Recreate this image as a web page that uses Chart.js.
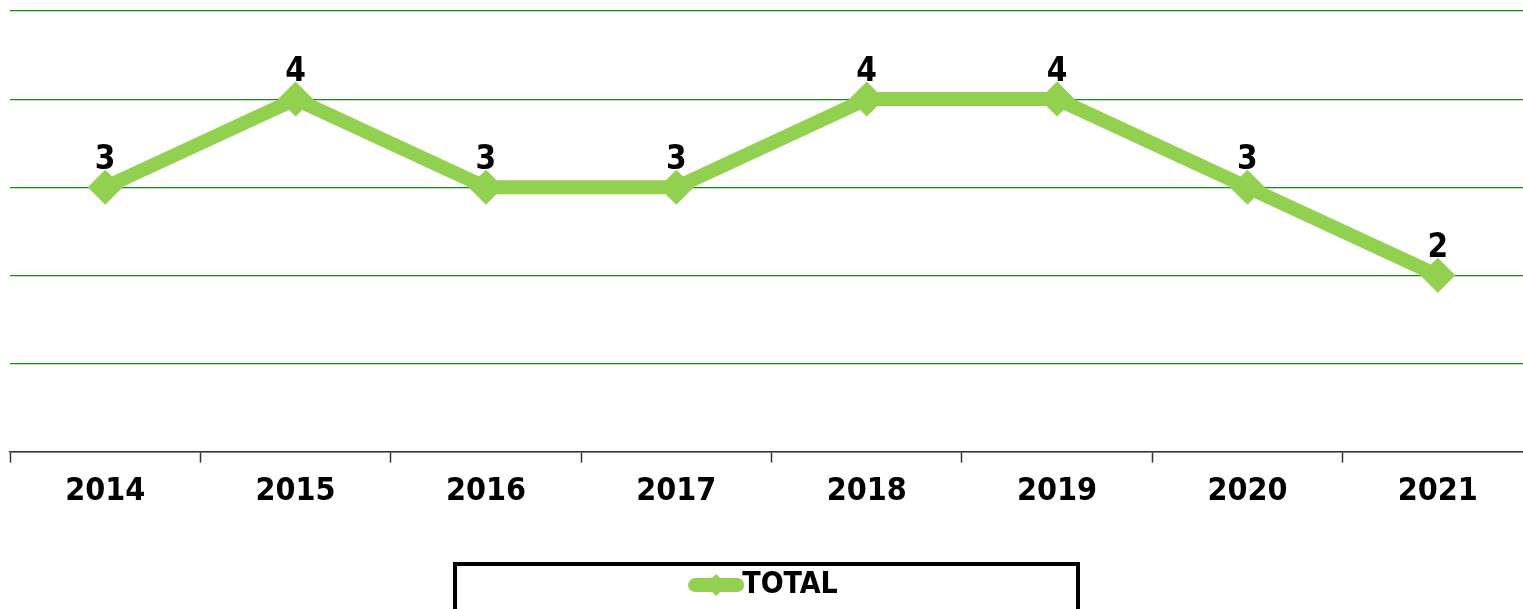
<!DOCTYPE html>
<html>
<head>
<meta charset="utf-8">
<script src="https://cdn.jsdelivr.net/npm/chart.js@4"></script>
<style>
  html, body { margin: 0; padding: 0; background: #fff; overflow: hidden; }
  canvas { display: block; }
</style>
</head>
<body>
<canvas id="myChart" width="1533" height="610"></canvas>
<script>
const years = ['2014', '2015', '2016', '2017', '2018', '2019', '2020', '2021'];
const totals = [3, 4, 3, 3, 4, 4, 3, 2];
const seriesName = 'TOTAL';
const yMin = 0;
const yMax = 5;
const yStep = 1;

const green = '#92D050';
const gridGreen = '#148a14';
const font = "'Liberation Sans Narrow', 'DejaVu Sans Condensed', sans-serif";

// legend marker: thick line with a diamond in the middle
const marker = document.createElement('canvas');
marker.width = 56;
marker.height = 26;
(function () {
  const c = marker.getContext('2d');
  c.strokeStyle = green;
  c.fillStyle = green;
  c.lineWidth = 14;
  c.lineCap = 'round';
  c.beginPath();
  c.moveTo(7, 13);
  c.lineTo(49, 13);
  c.stroke();
  c.beginPath();
  c.moveTo(28, 2);
  c.lineTo(39, 13);
  c.lineTo(28, 24);
  c.lineTo(17, 13);
  c.closePath();
  c.fill();
})();

// value labels above each point
const valueLabels = {
  id: 'valueLabels',
  afterDatasetsDraw(chart) {
    const ctx = chart.ctx;
    const meta = chart.getDatasetMeta(0);
    ctx.save();
    ctx.font = 'bold 33px ' + font;
    ctx.fillStyle = '#000';
    ctx.textAlign = 'center';
    ctx.textBaseline = 'alphabetic';
    meta.data.forEach((pt, i) => {
      ctx.fillText(String(totals[i]), pt.x, pt.y - 18);
    });
    ctx.restore();
  }
};

// black frame round the legend
const legendBox = {
  id: 'legendBox',
  afterDraw(chart) {
    const ctx = chart.ctx;
    const cx = 766.5;
    ctx.save();
    ctx.lineWidth = 4;
    ctx.strokeStyle = '#000';
    ctx.strokeRect(cx - 311.5, 564, 623, 80);
    ctx.restore();
  }
};

const config = {
  type: 'line',
  data: {
    labels: years,
    datasets: [{
      label: seriesName,
      data: totals,
      borderColor: green,
      backgroundColor: green,
      borderWidth: 14,
      tension: 0,
      pointStyle: 'rectRot',
      pointRadius: 17,
      pointBorderWidth: 1,
      pointBackgroundColor: green,
      pointBorderColor: green
    }]
  },
  options: {
    responsive: false,
    animation: false,
    layout: { autoPadding: false, padding: { top: 11, left: 10, right: 0, bottom: 0 } },
    scales: {
      x: {
        offset: true,
        grid: {
          offset: true,
          drawOnChartArea: false,
          tickLength: 11,
          tickWidth: 1.5,
          color: '#333333'
        },
        border: { color: '#333333', width: 1.5 },
        ticks: {
          color: '#000',
          padding: 10,
          font: { family: font, size: 32, weight: 'bold' }
        }
      },
      y: {
        min: yMin,
        max: yMax,
        ticks: { display: false, stepSize: yStep },
        grid: {
          drawTicks: false,
          color: gridGreen,
          lineWidth: 1.2
        },
        border: { display: false }
      }
    },
    plugins: {
      tooltip: { enabled: false },
      legend: {
        position: 'bottom',
        labels: {
          usePointStyle: true,
          pointStyle: marker,
          pointStyleWidth: 22,
          padding: 49,
          color: '#000',
          font: { family: font, size: 30, weight: 'bold' }
        }
      }
    }
  },
  plugins: [valueLabels, legendBox]
};

var myChart = new Chart(document.getElementById('myChart'), config);
</script>
</body>
</html>
